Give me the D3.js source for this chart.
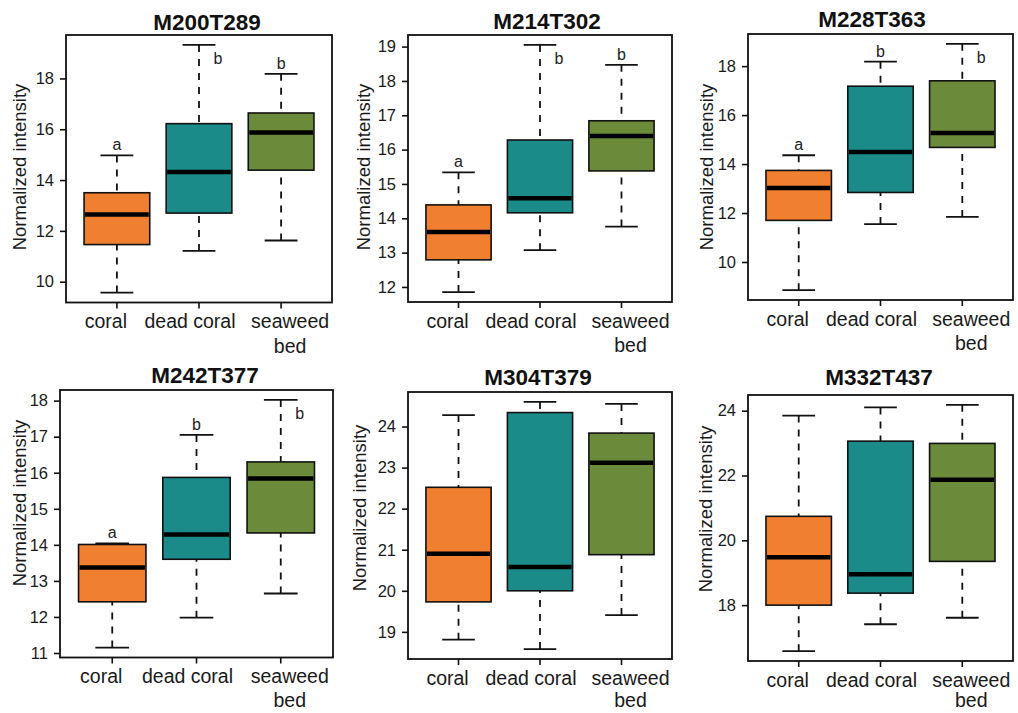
<!DOCTYPE html>
<html>
<head>
<meta charset="utf-8">
<script src="https://cdn.jsdelivr.net/npm/d3@7"></script>
<style>
  body { margin: 0; background: #fff; }
  svg { display: block; font-family: "Liberation Sans", Arial, sans-serif; }
</style>
</head>
<body>
<svg id="chart" width="1018" height="713"></svg>
<script>
// groups on the x axis
var categories = ["coral", "dead coral", "seaweed bed"];
var categoryLines = [["coral"], ["dead coral"], ["seaweed", "bed"]];
var groupColors = ["#f07f2f", "#1b8b8a", "#6b8b3b"];

var titles = ["M200T289", "M214T302", "M228T363", "M242T377", "M304T379", "M332T437"];

// [min, q1, median, q3, max] per group
var m200t289 = [[9.57, 11.46, 12.64, 13.50, 14.97], [11.21, 12.70, 14.32, 16.22, 19.32], [11.62, 14.39, 15.87, 16.64, 18.18]];
var m214t302 = [[11.85, 12.79, 13.60, 14.39, 15.34], [13.07, 14.16, 14.58, 16.28, 19.05], [13.76, 15.38, 16.40, 16.84, 18.47]];
var m228t363 = [[8.85, 11.70, 13.02, 13.74, 14.36], [11.55, 12.84, 14.49, 17.18, 18.18], [11.84, 14.68, 15.27, 17.40, 18.91]];
var m242t377 = [[11.15, 12.42, 13.37, 14.01, 14.04], [11.98, 13.60, 14.29, 15.87, 17.05], [12.65, 14.33, 15.84, 16.30, 18.02]];
var m304t379 = [[18.81, 19.73, 20.90, 22.52, 24.28], [18.58, 20.00, 20.58, 24.34, 24.60], [19.41, 20.88, 23.12, 23.84, 24.55]];
var m332t437 = [[16.58, 18.00, 19.48, 20.74, 23.85], [17.41, 18.37, 18.95, 23.06, 24.10], [17.61, 19.35, 21.87, 22.99, 24.18]];

// y tick labels per panel
var ticks200 = [10, 12, 14, 16, 18];
var ticks214 = [12, 13, 14, 15, 16, 17, 18, 19];
var ticks228 = [10, 12, 14, 16, 18];
var ticks242 = [11, 12, 13, 14, 15, 16, 17, 18];
var ticks304 = [19, 20, 21, 22, 23, 24];
var ticks332 = [18, 20, 22, 24];

// significance letters (empty = none)
var letters200 = ["a", "b", "b"];
var letters214 = ["a", "b", "b"];
var letters228 = ["a", "b", "b"];
var letters242 = ["a", "b", "b"];
var letters304 = [];
var letters332 = [];

var panelStats = [m200t289, m214t302, m228t363, m242t377, m304t379, m332t437];
var panelTicks = [ticks200, ticks214, ticks228, ticks242, ticks304, ticks332];
var panelLetters = [letters200, letters214, letters228, letters242, letters304, letters332];

// page layout of each plot box (pixels)
var layout = [
  {left: 66, right: 332, top: 35, bottom: 302.5, tx: 207, ty: 30, lx: 26, ly: 167},
  {left: 408, right: 672, top: 35, bottom: 302, tx: 547, ty: 29, lx: 370, ly: 167},
  {left: 748, right: 1013, top: 34, bottom: 300, tx: 872, ty: 27, lx: 713, ly: 167},
  {left: 60, right: 333, top: 390, bottom: 657.5, tx: 205, ty: 383, lx: 25.5, ly: 503},
  {left: 408, right: 672, top: 392, bottom: 659, tx: 538, ty: 385, lx: 365.5, ly: 508},
  {left: 748, right: 1013, top: 395, bottom: 661, tx: 879, ty: 385, lx: 711.5, ly: 509}
];
var labelShift = [-11, -9, 9];

var svg = d3.select("#chart");
svg.append("rect").attr("width", 1018).attr("height", 713).attr("fill", "#fff");

panelStats.forEach(function(stats, p) {
  var L = layout[p];
  var g = svg.append("g");

  var lo = d3.min(stats, function(d) { return d[0]; });
  var hi = d3.max(stats, function(d) { return d[4]; });
  var pad = (hi - lo) * 0.04;
  var y = d3.scaleLinear().domain([lo - pad, hi + pad]).range([L.bottom, L.top]);
  var x = d3.scaleLinear().domain([0.38, 3.62]).range([L.left, L.right]);
  var boxW = x(0.8) - x(0);
  var capW = x(0.4) - x(0);

  // whiskers
  var grp = g.selectAll(".grp").data(stats).enter().append("g");
  grp.append("line")
      .attr("x1", function(d, i) { return x(i + 1); })
      .attr("x2", function(d, i) { return x(i + 1); })
      .attr("y1", function(d) { return y(d[4]); })
      .attr("y2", function(d) { return y(d[3]); })
      .attr("stroke", "#111").attr("stroke-width", 1.8).attr("stroke-dasharray", "7,7");
  grp.append("line")
      .attr("x1", function(d, i) { return x(i + 1); })
      .attr("x2", function(d, i) { return x(i + 1); })
      .attr("y1", function(d) { return y(d[0]); })
      .attr("y2", function(d) { return y(d[1]); })
      .attr("stroke", "#111").attr("stroke-width", 1.8).attr("stroke-dasharray", "7,7");
  [0, 4].forEach(function(k) {
    grp.append("line")
        .attr("x1", function(d, i) { return x(i + 1) - capW / 2; })
        .attr("x2", function(d, i) { return x(i + 1) + capW / 2; })
        .attr("y1", function(d) { return y(d[k]); })
        .attr("y2", function(d) { return y(d[k]); })
        .attr("stroke", "#111").attr("stroke-width", 1.8);
  });
  // boxes
  grp.append("rect")
      .attr("x", function(d, i) { return x(i + 1) - boxW / 2; })
      .attr("width", boxW)
      .attr("y", function(d) { return y(d[3]); })
      .attr("height", function(d) { return y(d[1]) - y(d[3]); })
      .attr("fill", function(d, i) { return groupColors[i]; })
      .attr("stroke", "#111").attr("stroke-width", 1.6);
  grp.append("line")
      .attr("x1", function(d, i) { return x(i + 1) - boxW / 2 + 1; })
      .attr("x2", function(d, i) { return x(i + 1) + boxW / 2 - 1; })
      .attr("y1", function(d) { return y(d[2]); })
      .attr("y2", function(d) { return y(d[2]); })
      .attr("stroke", "#000").attr("stroke-width", 4.5);

  // letters: above the upper cap, or beside it when the frame is too close
  var letters = panelLetters[p];
  grp.filter(function(d, i) { return letters[i]; })
    .append("text")
      .attr("x", function(d, i) {
        var cap = y(d[4]);
        return cap - L.top < 20 ? x(i + 1) + 19 : x(i + 1);
      })
      .attr("y", function(d) {
        var cap = y(d[4]);
        return cap - L.top < 20 ? cap + 19 : cap - 5;
      })
      .attr("text-anchor", "middle")
      .attr("font-size", 16).attr("fill", "#222")
      .text(function(d, i) { return letters[i]; });

  // frame
  g.append("rect")
      .attr("x", L.left).attr("y", L.top)
      .attr("width", L.right - L.left).attr("height", L.bottom - L.top)
      .attr("fill", "none").attr("stroke", "#111").attr("stroke-width", 1.8);

  // y axis
  var yAxis = d3.axisLeft(y).tickValues(panelTicks[p]).tickSize(6).tickPadding(6).tickFormat(d3.format("d"));
  var ya = g.append("g").attr("transform", "translate(" + L.left + ",0)").call(yAxis);
  ya.select(".domain").remove();
  ya.selectAll("line").attr("stroke", "#111").attr("stroke-width", 1.6);
  ya.selectAll("text").attr("font-size", 16.5).attr("fill", "#1a1a1a")
      .attr("font-family", "Liberation Sans, Arial, sans-serif");

  // x axis ticks and labels
  var xa = g.append("g");
  xa.selectAll("line").data(categories).enter().append("line")
      .attr("x1", function(d, i) { return x(i + 1); })
      .attr("x2", function(d, i) { return x(i + 1); })
      .attr("y1", L.bottom).attr("y2", L.bottom + 6)
      .attr("stroke", "#111").attr("stroke-width", 1.6);
  var lineGap = Math.min(24.5, 707 - (L.bottom + 25.5));
  xa.selectAll("text").data(categoryLines).enter().append("text")
      .attr("x", function(d, i) { return x(i + 1) + labelShift[i]; })
      .attr("y", L.bottom + 25.5)
      .attr("text-anchor", "middle")
      .attr("font-size", 19.5).attr("fill", "#1a1a1a")
      .each(function(d) {
        var t = d3.select(this);
        d.forEach(function(line, j) {
          t.append("tspan").attr("x", t.attr("x")).attr("dy", j === 0 ? 0 : lineGap).text(line);
        });
      });

  // titles
  g.append("text")
      .attr("x", L.tx).attr("y", L.ty)
      .attr("text-anchor", "middle")
      .attr("font-size", 22.5).attr("font-weight", "bold").attr("fill", "#111")
      .text(titles[p]);

  g.append("text")
      .attr("transform", "translate(" + L.lx + "," + L.ly + ") rotate(-90)")
      .attr("text-anchor", "middle")
      .attr("font-size", 18.5).attr("fill", "#1a1a1a")
      .text("Normalized intensity");
});
</script>
</body>
</html>
